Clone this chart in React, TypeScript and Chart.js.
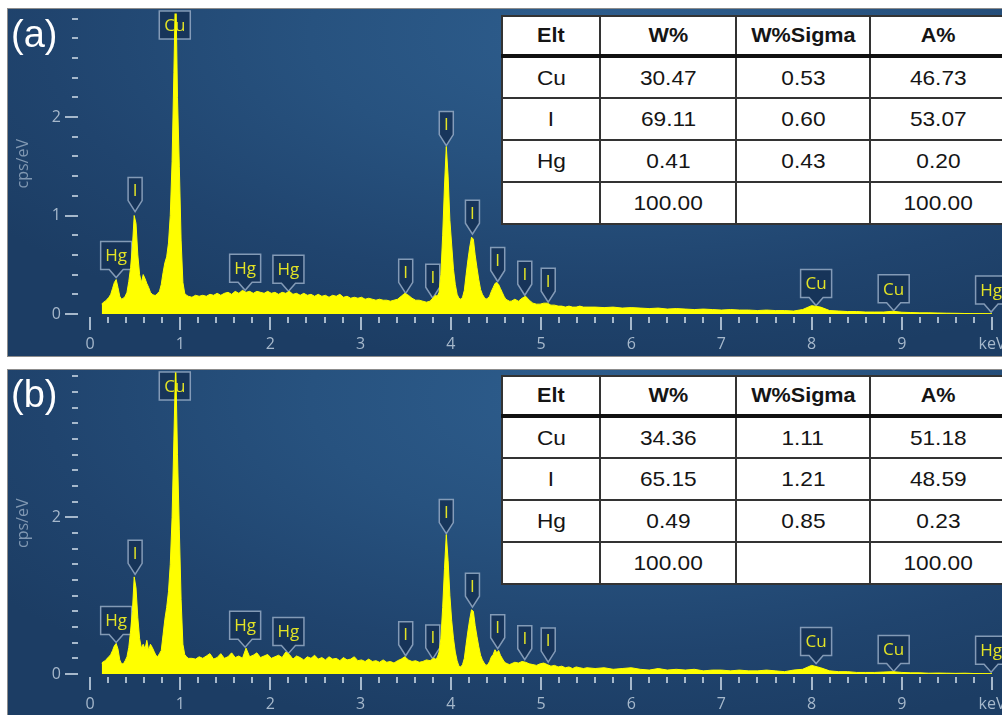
import React, { useEffect, useRef } from 'react';
import { Chart, registerables } from 'chart.js';
Chart.register(...registerables);

// Energy grid of the spectra (keV)
const ENERGY_KEV = [
  0.13,0.15,0.17,0.19,0.21,0.23,0.25,0.27,0.29,0.31,
  0.33,0.35,0.37,0.39,0.41,0.43,0.45,0.47,0.49,0.51,
  0.53,0.55,0.57,0.59,0.61,0.63,0.65,0.67,0.69,0.71,
  0.73,0.75,0.77,0.79,0.81,0.83,0.85,0.87,0.89,0.91,
  0.93,0.95,0.97,0.99,1.01,1.03,1.05,1.07,1.09,
  1.13,1.17,1.21,1.25,1.29,1.33,1.37,1.41,1.45,1.49,
  1.53,1.57,1.61,1.65,1.69,1.73,1.77,1.81,1.85,1.89,
  1.93,1.97,2.01,2.05,2.09,2.13,2.17,2.21,2.25,2.29,
  2.33,2.37,2.41,2.45,2.49,2.53,2.57,2.61,2.65,2.69,
  2.73,2.77,2.81,2.85,2.89,2.93,2.97,3.01,3.05,3.09,
  3.13,3.17,3.21,3.25,3.29,3.33,3.37,3.41,3.45,3.49,
  3.53,3.57,3.61,3.65,3.69,3.73,3.77,3.81,
  3.83,3.85,3.87,3.89,3.91,3.93,3.95,3.97,3.99,4.01,
  4.03,4.05,4.07,4.09,4.11,4.13,4.15,4.17,4.19,4.21,
  4.23,4.25,4.27,4.29,4.31,4.33,4.35,4.37,4.39,4.41,
  4.43,4.45,4.47,4.49,4.51,4.53,4.55,4.57,4.59,4.61,
  4.63,4.65,4.67,4.69,4.71,
  4.75,4.79,4.83,4.87,4.91,4.95,4.99,5.03,5.07,5.11,
  5.15,5.19,5.23,5.27,5.31,5.35,5.39,5.43,5.47,5.51,
  5.6,5.7,5.8,5.9,6.0,6.1,6.2,6.3,6.4,6.5,
  6.6,6.7,6.8,6.9,7.0,7.1,7.2,7.3,7.4,7.5,
  7.6,7.7,7.8,7.9,8.0,8.1,8.2,8.3,8.4,8.5,
  8.6,8.7,8.8,8.9,9.0,9.1,9.2,9.3,9.4,9.5,
  9.6,9.7,9.8,9.9,10.0,
];

// Spectrum (a), cps/eV
const SPECTRUM_A = [
  0.10,0.12,0.13,0.15,0.17,0.20,0.26,0.32,0.35,0.27,
  0.18,0.15,0.16,0.18,0.22,0.33,0.47,0.68,1.00,0.92,
  0.60,0.40,0.32,0.40,0.36,0.31,0.27,0.22,0.20,0.19,
  0.19,0.21,0.23,0.30,0.42,0.52,0.58,0.72,1.00,1.55,
  2.45,3.40,2.20,1.50,0.75,0.32,0.21,0.19,0.18,
  0.17,0.19,0.18,0.19,0.18,0.20,0.19,0.21,0.19,0.21,
  0.22,0.20,0.23,0.21,0.24,0.22,0.23,0.21,0.23,0.22,
  0.21,0.23,0.21,0.22,0.20,0.22,0.21,0.23,0.20,0.21,
  0.19,0.21,0.19,0.20,0.18,0.20,0.18,0.19,0.17,0.19,
  0.18,0.20,0.17,0.18,0.16,0.17,0.16,0.17,0.15,0.16,
  0.15,0.14,0.15,0.14,0.14,0.13,0.14,0.15,0.18,0.21,
  0.19,0.16,0.14,0.14,0.13,0.12,0.13,0.17,
  0.19,0.18,0.22,0.40,0.80,1.30,1.70,1.40,0.95,0.70,
  0.45,0.30,0.20,0.16,0.15,0.17,0.24,0.40,0.55,0.68,
  0.78,0.76,0.60,0.47,0.35,0.25,0.20,0.17,0.15,0.16,
  0.18,0.23,0.27,0.31,0.32,0.30,0.26,0.22,0.18,0.15,
  0.14,0.13,0.13,0.14,0.15,
  0.13,0.16,0.18,0.14,0.11,0.10,0.10,0.11,0.11,0.09,
  0.09,0.08,0.08,0.07,0.08,0.07,0.07,0.08,0.07,0.07,
  0.070,0.065,0.070,0.060,0.065,0.060,0.055,0.060,0.050,0.055,
  0.050,0.045,0.050,0.045,0.040,0.045,0.040,0.040,0.035,0.040,
  0.035,0.035,0.030,0.045,0.085,0.070,0.035,0.030,0.025,0.025,
  0.020,0.020,0.020,0.028,0.018,0.015,0.012,0.012,0.010,0.008,
  0.007,0.005,0.004,0.004,0.003,
];

// Spectrum (b), cps/eV
const SPECTRUM_B = [
  0.14,0.16,0.17,0.20,0.22,0.25,0.30,0.36,0.39,0.32,
  0.18,0.13,0.13,0.17,0.22,0.34,0.55,0.80,1.24,1.10,
  0.72,0.45,0.33,0.38,0.32,0.43,0.30,0.38,0.34,0.29,
  0.24,0.22,0.26,0.30,0.50,0.70,0.85,1.05,1.40,2.00,
  3.00,4.00,2.80,1.85,0.95,0.38,0.25,0.22,0.20,
  0.20,0.19,0.22,0.20,0.23,0.26,0.19,0.21,0.26,0.20,
  0.22,0.27,0.21,0.23,0.20,0.33,0.22,0.24,0.27,0.21,
  0.23,0.25,0.20,0.22,0.24,0.21,0.28,0.25,0.19,0.23,
  0.21,0.18,0.22,0.20,0.24,0.19,0.21,0.18,0.22,0.19,
  0.20,0.17,0.21,0.18,0.19,0.22,0.17,0.18,0.16,0.19,
  0.16,0.17,0.15,0.18,0.15,0.16,0.14,0.17,0.19,0.22,
  0.18,0.16,0.17,0.15,0.16,0.18,0.17,0.20,
  0.19,0.21,0.28,0.45,0.85,1.35,1.78,1.45,1.00,0.68,
  0.45,0.28,0.17,0.10,0.09,0.12,0.20,0.38,0.55,0.70,
  0.82,0.80,0.62,0.48,0.35,0.24,0.18,0.14,0.11,0.12,
  0.16,0.22,0.25,0.31,0.27,0.30,0.24,0.20,0.16,0.14,
  0.13,0.12,0.13,0.14,0.15,
  0.14,0.16,0.15,0.13,0.12,0.11,0.13,0.14,0.12,0.10,
  0.11,0.09,0.10,0.08,0.09,0.07,0.09,0.08,0.07,0.08,
  0.07,0.08,0.06,0.07,0.08,0.06,0.05,0.07,0.05,0.06,
  0.05,0.06,0.04,0.05,0.05,0.04,0.05,0.04,0.04,0.05,
  0.04,0.03,0.05,0.06,0.11,0.08,0.04,0.03,0.03,0.02,
  0.02,0.02,0.025,0.03,0.02,0.015,0.015,0.01,0.012,0.01,
  0.008,0.01,0.006,0.005,0.004,
];

// Peak markers
const PEAK_KEV = [0.29, 0.50, 0.94, 1.72, 2.20, 3.50, 3.80, 3.95, 4.24, 4.52, 4.82, 5.08, 8.05, 8.91, 9.99];
const PEAK_ELEMENT = ['Hg', 'I', 'Cu', 'Hg', 'Hg', 'I', 'I', 'I', 'I', 'I', 'I', 'I', 'Cu', 'Cu', 'Hg'];
const PEAK_TIP_A = [0.36, 1.03, null, 0.23, 0.22, 0.20, 0.15, 1.70, 0.80, 0.32, 0.18, 0.11, 0.075, 0.023, 0.01];
const PEAK_TIP_B = [0.39, 1.26, null, 0.33, 0.25, 0.22, 0.18, 1.78, 0.84, 0.31, 0.17, 0.14, 0.12, 0.02, 0.01];

// Axis tick labels
const X_TICK_LABELS = ['0', '1', '2', '3', '4', '5', '6', '7', '8', '9', 'keV'];
const Y_TICK_LABELS_A = [0, 1, 2];
const Y_TICK_LABELS_B = [0, 2];

// Quantification tables
const TABLE_HEAD = ['Elt', 'W%', 'W%Sigma', 'A%'];
const TABLE_ELT = ['Cu', 'I', 'Hg', ''];
const TABLE_A_W = ['30.47', '69.11', '0.41', '100.00'];
const TABLE_A_SIGMA = ['0.53', '0.60', '0.43', ''];
const TABLE_A_AT = ['46.73', '53.07', '0.20', '100.00'];
const TABLE_B_W = ['34.36', '65.15', '0.49', '100.00'];
const TABLE_B_SIGMA = ['1.11', '1.21', '0.85', ''];
const TABLE_B_AT = ['51.18', '48.59', '0.23', '100.00'];

const AXIS_FONT = '"Open Sans", "Noto Sans", sans-serif';
const TICK_COLOR = '#a6b8cb';

type SpecProps = {
  spec: number[];
  tips: (number | null)[];
  yMax: number;
  yLabels: number[];
  canvasH: number;
  baseY: number;
  padTop: number;
};

function Spectrum({ spec, tips, yMax, yLabels, canvasH, baseY, padTop }: SpecProps) {
  const ref = useRef<HTMLCanvasElement>(null);
  useEffect(() => {
    if (!ref.current) return;
    const peakLabels = {
      id: 'peakLabels',
      beforeDatasetsDraw(chart: any) {
        const { ctx, scales } = chart;
        const xs = scales.x, ys = scales.y;
        ctx.save();
        PEAK_KEV.forEach((e, i) => {
          const el = PEAK_ELEMENT[i];
          const px = xs.getPixelForValue(e);
          const wide = el !== 'I';
          const w = wide ? 31 : 14;
          let cy: number;
          ctx.beginPath();
          const tv = tips[i];
          if (tv === null) {
            ctx.rect(px - w / 2, 2, w, 28);
            cy = 16;
          } else {
            const ty = ys.getPixelForValue(tv) - 1;
            if (wide) {
              const b = ty - 8, t = b - 28;
              ctx.moveTo(px - w / 2, t);
              ctx.lineTo(px + w / 2, t);
              ctx.lineTo(px + w / 2, b);
              ctx.lineTo(px + 7, b);
              ctx.lineTo(px, ty);
              ctx.lineTo(px - 7, b);
              ctx.lineTo(px - w / 2, b);
              ctx.closePath();
              cy = (t + b) / 2;
            } else {
              const b = ty - 11, t = b - 23;
              ctx.moveTo(px - w / 2, t);
              ctx.lineTo(px + w / 2, t);
              ctx.lineTo(px + w / 2, b);
              ctx.lineTo(px, ty);
              ctx.lineTo(px - w / 2, b);
              ctx.closePath();
              cy = (t + b) / 2 + 1;
            }
          }
          ctx.fillStyle = 'rgba(22,50,86,0.88)';
          ctx.fill();
          ctx.lineWidth = 1.5;
          ctx.strokeStyle = 'rgba(150,172,198,0.85)';
          ctx.stroke();
          ctx.fillStyle = '#e3e326';
          ctx.font = '17px ' + AXIS_FONT;
          ctx.textAlign = 'center';
          ctx.textBaseline = 'middle';
          ctx.fillText(el, px, cy + 1);
        });
        ctx.restore();
      },
    };
    const tickMarks = {
      id: 'tickMarks',
      afterDraw(chart: any) {
        const { ctx, scales, chartArea } = chart;
        const xs = scales.x, ys = scales.y;
        ctx.save();
        ctx.fillStyle = TICK_COLOR;
        const ny = Math.floor(yMax / 0.2 + 1e-6);
        for (let i = 0; i <= ny; i++) {
          const v = i * 0.2;
          const py = Math.round(ys.getPixelForValue(v));
          const major = yLabels.some((l) => Math.abs(l - v) < 1e-6);
          const x0 = major ? 57 : 64;
          ctx.fillRect(x0, py - 1, 70 - x0, 2);
        }
        const y0 = Math.round(chartArea.bottom + 3);
        for (let i = 0; i <= 50; i++) {
          const px = Math.round(xs.getPixelForValue(i * 0.2));
          const major = i % 5 === 0;
          ctx.fillRect(px - 1, y0, 2, major ? 13 : 6);
        }
        ctx.restore();
      },
    };
    const chart = new Chart(ref.current, {
      type: 'line',
      data: {
        datasets: [
          {
            data: ENERGY_KEV.map((e, i) => ({ x: e, y: spec[i] })),
            borderColor: '#ffff00',
            backgroundColor: '#ffff00',
            borderWidth: 1,
            fill: 'origin',
            pointRadius: 0,
            tension: 0,
          },
        ],
      },
      options: {
        animation: false,
        responsive: false,
        events: [],
        layout: { padding: { top: padTop, right: 24, left: 0, bottom: 0 } },
        plugins: { legend: { display: false }, tooltip: { enabled: false } },
        scales: {
          x: {
            type: 'linear',
            min: 0,
            max: 10,
            afterFit: (s: any) => {
              s.height = canvasH - baseY;
              s.paddingLeft = 0;
              s.paddingRight = 0;
            },
            grid: { display: false, drawTicks: false },
            border: { display: false },
            ticks: {
              stepSize: 1,
              autoSkip: false,
              maxRotation: 0,
              padding: 21,
              color: TICK_COLOR,
              font: { family: AXIS_FONT, size: 16 },
              callback: (v: any) => X_TICK_LABELS[Math.round(Number(v))] ?? '',
            },
          },
          y: {
            type: 'linear',
            min: 0,
            max: yMax,
            afterFit: (s: any) => {
              s.width = 82;
              s.paddingTop = 0;
              s.paddingBottom = 0;
            },
            grid: { display: false, drawTicks: false },
            border: { display: false },
            ticks: {
              stepSize: 1,
              includeBounds: false,
              padding: 29,
              color: TICK_COLOR,
              font: { family: AXIS_FONT, size: 16 },
              callback: (v: any) => (yLabels.includes(Number(v)) ? String(v) : ''),
            },
            title: {
              display: true,
              text: 'cps/eV',
              color: '#8198b2',
              font: { family: AXIS_FONT, size: 16 },
              padding: { top: 6, bottom: 0 },
            },
          },
        },
      },
      plugins: [peakLabels, tickMarks],
    } as any);
    return () => chart.destroy();
  }, []);
  return <canvas ref={ref} width={1008} height={canvasH} style={{ display: 'block' }} />;
}

function ResultTable({ top, w, sigma, at }: { top: number; w: string[]; sigma: string[]; at: string[] }) {
  const colW = [98, 136, 134, 136];
  const cellBase: React.CSSProperties = {
    border: '2px solid #333333',
    textAlign: 'center',
    padding: 0,
    verticalAlign: 'middle',
    boxSizing: 'border-box',
  };
  const stretch: React.CSSProperties = { display: 'inline-block', transform: 'scaleX(1.08)' };
  return (
    <table
      style={{
        position: 'absolute',
        left: 501,
        top,
        width: 504,
        borderCollapse: 'collapse',
        tableLayout: 'fixed',
        background: '#ffffff',
        fontFamily: '"Liberation Sans", Arial, sans-serif',
        color: '#151515',
      }}
    >
      <colgroup>
        {colW.map((cw, i) => (
          <col key={i} style={{ width: cw }} />
        ))}
      </colgroup>
      <thead>
        <tr>
          {TABLE_HEAD.map((h, i) => (
            <th key={i} style={{ ...cellBase, borderBottom: '4px solid #111', height: 40, fontSize: 20, fontWeight: 700 }}>
              <span style={stretch}>{h}</span>
            </th>
          ))}
        </tr>
      </thead>
      <tbody>
        {TABLE_ELT.map((el, r) => (
          <tr key={r}>
            {[el, w[r], sigma[r], at[r]].map((c, i) => (
              <td key={i} style={{ ...cellBase, height: 42, fontSize: 21 }}>
                <span style={stretch}>{c}</span>
              </td>
            ))}
          </tr>
        ))}
      </tbody>
    </table>
  );
}

const PANEL_BG =
  'radial-gradient(ellipse 75% 95% at 60% 8%, #2e5e8e 0%, #27527f 40%, #20446e 75%, #1c3d64 100%)';

export default function App() {
  const panel: React.CSSProperties = {
    position: 'absolute',
    left: 7,
    width: 1010,
    boxSizing: 'border-box',
    border: '1px solid #8c8c8c',
    background: PANEL_BG,
    overflow: 'hidden',
  };
  const tag: React.CSSProperties = {
    position: 'absolute',
    left: 11,
    color: '#ffffff',
    fontFamily: '"Liberation Sans", Arial, sans-serif',
    fontSize: 38,
    lineHeight: 1,
  };
  return (
    <div style={{ position: 'fixed', left: 0, top: 0, width: 1002, height: 715, overflow: 'hidden', background: '#ffffff' }}>
      <div style={{ ...panel, top: 8, height: 349 }}>
        <Spectrum spec={SPECTRUM_A} tips={PEAK_TIP_A} yMax={3.05} yLabels={Y_TICK_LABELS_A} canvasH={347} baseY={305} padTop={4.6} />
      </div>
      <div style={{ ...panel, top: 369, height: 360 }}>
        <Spectrum spec={SPECTRUM_B} tips={PEAK_TIP_B} yMax={3.85} yLabels={Y_TICK_LABELS_B} canvasH={345} baseY={304} padTop={2.5} />
      </div>
      <div style={{ ...tag, top: 15 }}>(a)</div>
      <div style={{ ...tag, top: 375 }}>(b)</div>
      <ResultTable top={15} w={TABLE_A_W} sigma={TABLE_A_SIGMA} at={TABLE_A_AT} />
      <ResultTable top={375} w={TABLE_B_W} sigma={TABLE_B_SIGMA} at={TABLE_B_AT} />
    </div>
  );
}
